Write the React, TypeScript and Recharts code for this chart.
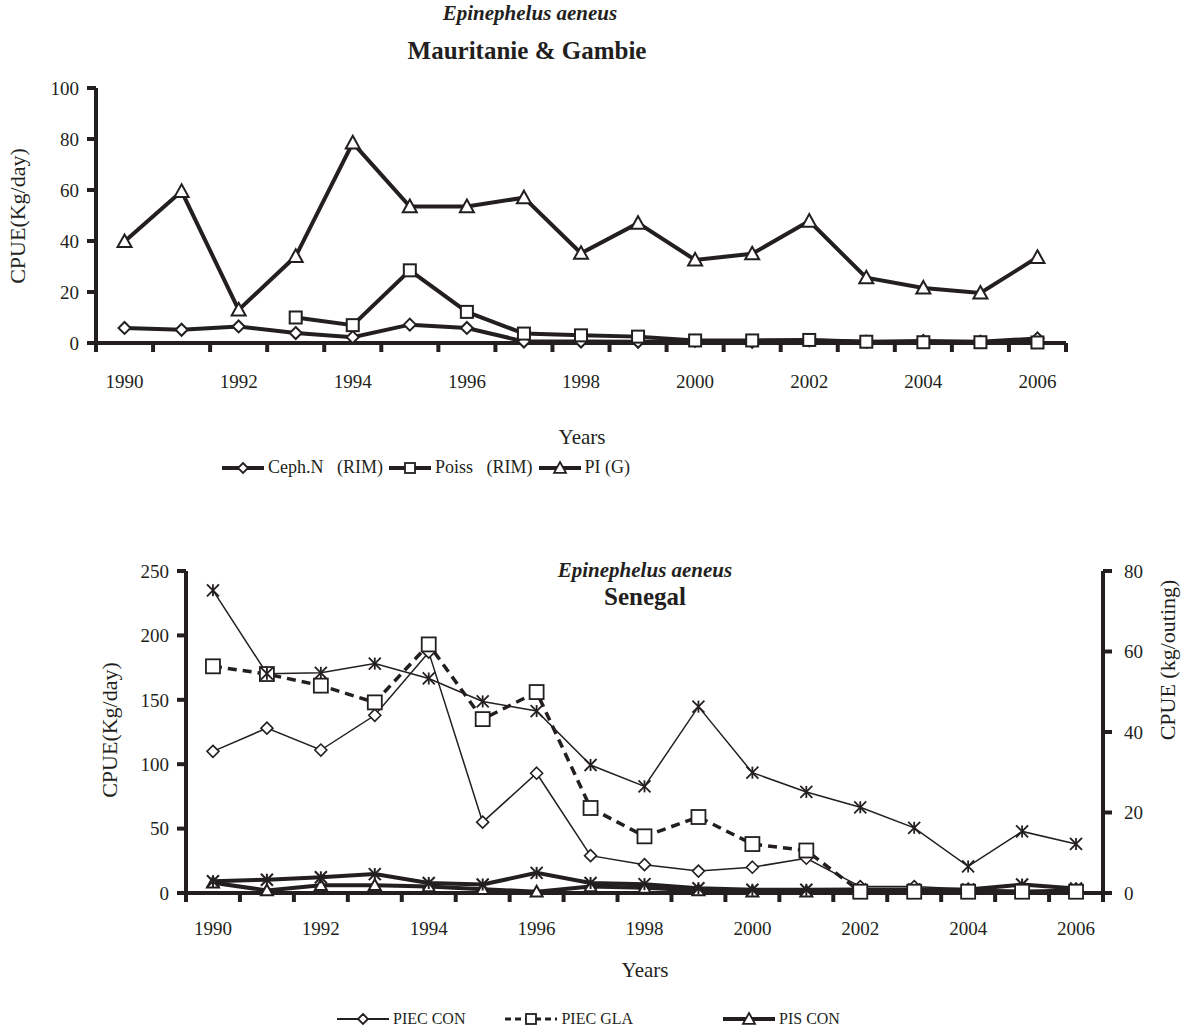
import React from 'react';
import { LineChart, Line, XAxis, YAxis } from 'recharts';

const years = [1990, 1991, 1992, 1993, 1994, 1995, 1996, 1997, 1998, 1999, 2000, 2001, 2002, 2003, 2004, 2005, 2006];
const yearLabels = [1990, 1992, 1994, 1996, 1998, 2000, 2002, 2004, 2006];

// Mauritanie & Gambie (kg/day)
const cephN = [5.9, 5.2, 6.5, 3.9, 2.3, 7.2, 5.9, 0.6, 0.6, 0.5, 0.8, 0.5, 1.0, 0.5, 0.8, 0.5, 1.8];
const poiss = [null, null, null, 10, 7, 28.5, 12.2, 3.7, 3, 2.5, 1, 1, 1.2, 0.5, 0.3, 0.3, 0.2];
const piG = [39.8, 59.5, 13, 34, 78.5, 53.5, 53.5, 57, 35.2, 47, 32.6, 35, 47.8, 25.6, 21.6, 19.6, 33.6];
const topTicks = [0, 20, 40, 60, 80, 100];

// Senegal
const piecCon = [110, 128, 111, 138, 187, 55, 93, 29, 22, 17, 20, 27, 5, 5, 3, 2, 3];
const piecGla = [176, 170, 161, 148, 193, 135, 156, 66, 44, 59, 38, 33, 1, 1, 1, 1, 1];
const pisCon = [8, 2, 6, 6, 5, 3, 1, 5, 4, 2, 1, 1, 2, 2, 1, 1, 1];
// kg/outing (right axis)
const outingA = [75.2, 54.5, 54.7, 57, 53.3, 47.6, 45.2, 31.8, 26.5, 46.3, 29.9, 25.1, 21.3, 16.2, 6.6, 15.3, 12.2];
const outingB = [2.9, 3.3, 3.9, 4.7, 2.5, 2.1, 5, 2.5, 2.2, 1.2, 0.8, 0.8, 0.9, 0.9, 0.9, 2.1, 1.1];
const leftTicks = [0, 50, 100, 150, 200, 250];
const rightTicks = [0, 20, 40, 60, 80];

const INK = '#231f20';
const FONT = '"Liberation Serif", "Times New Roman", serif';

const topData = years.map((y, i) => ({ year: y, cephN: cephN[i], poiss: poiss[i], piG: piG[i] }));
const senData = years.map((y, i) => ({
  year: y,
  piecCon: piecCon[i],
  piecGla: piecGla[i],
  pisCon: pisCon[i],
  outingA: outingA[i],
  outingB: outingB[i],
}));
// tick marks sit between the years (Excel "between tick marks")
const bounds = years.map((y) => y - 0.5).concat(years[years.length - 1] + 0.5);

function Marker({ cx, cy, kind, s = 6, sw = 2 }: any) {
  if (cx == null || cy == null || isNaN(cy)) return <g />;
  const common = { fill: '#fff', stroke: INK, strokeWidth: sw };
  if (kind === 'diamond')
    return <polygon {...common} points={`${cx},${cy - s} ${cx + s},${cy} ${cx},${cy + s} ${cx - s},${cy}`} />;
  if (kind === 'square') return <rect {...common} x={cx - s} y={cy - s} width={2 * s} height={2 * s} />;
  if (kind === 'triangle')
    return <polygon {...common} points={`${cx},${cy - s} ${cx + s},${cy + s * 0.8} ${cx - s},${cy + s * 0.8}`} />;
  return (
    <g stroke={INK} strokeWidth={sw}>
      <line x1={cx - s} y1={cy - s} x2={cx + s} y2={cy + s} />
      <line x1={cx - s} y1={cy + s} x2={cx + s} y2={cy - s} />
      <line x1={cx} y1={cy - s} x2={cx} y2={cy + s} />
    </g>
  );
}

const dot = (kind: string, s?: number, sw?: number) => (p: any) =>
  <Marker key={`${kind}-${p.index}`} cx={p.cx} cy={p.cy} kind={kind} s={s} sw={sw} />;

const tickStyle = { fontSize: 19, fill: INK, fontFamily: FONT };
const thick = { stroke: INK, strokeWidth: 4 };

function LegendItem({ kind, width, sw, dash, label, s = 6, gap = 0 }: any) {
  return (
    <span style={{ display: 'inline-flex', alignItems: 'center', marginRight: 6, marginLeft: gap }}>
      <svg width={width} height={16} style={{ marginRight: 4 }}>
        <line x1={0} y1={8} x2={width} y2={8} stroke={INK} strokeWidth={sw} strokeDasharray={dash} />
        <Marker cx={width / 2} cy={8} kind={kind} s={s} sw={1.8} />
      </svg>
      <span style={{ whiteSpace: 'pre' }}>{label}</span>
    </span>
  );
}

const abs = (left: number, top: number, extra: any = {}) => ({ position: 'absolute' as const, left, top, ...extra });

export default function App() {
  return (
    <div style={{ position: 'absolute', left: 0, top: 0, width: 1191, height: 1036, background: '#fff', color: INK, fontFamily: FONT }}>
      {/* Mauritanie & Gambie */}
      <div style={abs(530, 1, { fontSize: 21, fontWeight: 'bold', fontStyle: 'italic', transform: 'translateX(-50%)', whiteSpace: 'nowrap' })}>
        Epinephelus aeneus
      </div>
      <div style={abs(527, 37, { fontSize: 25, fontWeight: 'bold', transform: 'translateX(-50%)', whiteSpace: 'nowrap' })}>
        Mauritanie &amp; Gambie
      </div>
      <div style={abs(0, 0)}>
        <LineChart width={1191} height={400} data={topData} margin={{ top: 88, right: 125, left: 0, bottom: 0 }}>
          <XAxis xAxisId="grid" type="number" dataKey="year" domain={[1989.5, 2006.5]} ticks={bounds} allowDataOverflow
            tickFormatter={() => ''} axisLine={thick} tickLine={thick} tickSize={9} height={12} />
          <XAxis xAxisId="main" type="number" dataKey="year" domain={[1989.5, 2006.5]} ticks={yearLabels} interval={0}
            axisLine={false} tickLine={false} tick={tickStyle} tickMargin={14} height={45} />
          <YAxis domain={[0, 100]} ticks={topTicks} width={96} axisLine={thick} tickLine={thick} tickSize={9} tick={tickStyle} tickMargin={8} />
          <Line xAxisId="main" dataKey="cephN" name="Ceph.N (RIM)" stroke={INK} strokeWidth={4} dot={dot('diamond', 6)} isAnimationActive={false} />
          <Line xAxisId="main" dataKey="poiss" name="Poiss (RIM)" stroke={INK} strokeWidth={4} dot={dot('square', 6)} isAnimationActive={false} />
          <Line xAxisId="main" dataKey="piG" name="PI (G)" stroke={INK} strokeWidth={4} dot={dot('triangle', 7)} isAnimationActive={false} />
        </LineChart>
      </div>
      <div style={abs(18, 216, { fontSize: 22, transform: 'translate(-50%, -50%) rotate(-90deg)', whiteSpace: 'nowrap' })}>CPUE(Kg/day)</div>
      <div style={abs(582, 437, { fontSize: 21, transform: 'translate(-50%, -50%)' })}>Years</div>
      <div style={abs(222, 457, { fontSize: 18, display: 'flex' })}>
        <LegendItem kind="diamond" width={42} sw={4} label={'Ceph.N   (RIM)'} s={5} />
        <LegendItem kind="square" width={42} sw={4} label={'Poiss   (RIM)'} s={5} />
        <LegendItem kind="triangle" width={42} sw={4} label={'PI (G)'} s={6} />
      </div>

      {/* Senegal */}
      <div style={abs(0, 520)}>
        <LineChart width={1191} height={420} data={senData} margin={{ top: 51, right: 0, left: 0, bottom: 0 }}>
          <XAxis xAxisId="grid" type="number" dataKey="year" domain={[1989.5, 2006.5]} ticks={bounds} allowDataOverflow
            tickFormatter={() => ''} axisLine={thick} tickLine={thick} tickSize={9} height={12} />
          <XAxis xAxisId="main" type="number" dataKey="year" domain={[1989.5, 2006.5]} ticks={yearLabels} interval={0}
            axisLine={false} tickLine={false} tick={tickStyle} tickMargin={11} height={35} />
          <YAxis yAxisId="left" domain={[0, 250]} ticks={leftTicks} width={186} axisLine={thick} tickLine={thick} tickSize={9} tick={tickStyle} tickMargin={8} />
          <YAxis yAxisId="right" orientation="right" domain={[0, 80]} ticks={rightTicks} width={88} axisLine={thick} tickLine={thick} tickSize={9} tick={tickStyle} tickMargin={12} />
          <Line xAxisId="main" yAxisId="left" dataKey="pisCon" name="PIS CON" stroke={INK} strokeWidth={4} dot={dot('triangle', 6)} isAnimationActive={false} />
          <Line xAxisId="main" yAxisId="right" dataKey="outingB" name="kg/outing B" stroke={INK} strokeWidth={4} dot={dot('asterisk', 6, 2)} isAnimationActive={false} />
          <Line xAxisId="main" yAxisId="left" dataKey="piecCon" name="PIEC CON" stroke={INK} strokeWidth={1.5} dot={dot('diamond', 6, 1.6)} isAnimationActive={false} />
          <Line xAxisId="main" yAxisId="left" dataKey="piecGla" name="PIEC GLA" stroke={INK} strokeWidth={3.5} strokeDasharray="9 6" dot={dot('square', 7, 1.8)} isAnimationActive={false} />
          <Line xAxisId="main" yAxisId="right" dataKey="outingA" name="kg/outing A" stroke={INK} strokeWidth={1.5} dot={dot('asterisk', 6, 1.8)} isAnimationActive={false} />
        </LineChart>
      </div>
      <div style={abs(645, 558, { fontSize: 21, fontWeight: 'bold', fontStyle: 'italic', transform: 'translateX(-50%)', whiteSpace: 'nowrap' })}>
        Epinephelus aeneus
      </div>
      <div style={abs(645, 583, { fontSize: 25, fontWeight: 'bold', transform: 'translateX(-50%)' })}>Senegal</div>
      <div style={abs(110, 730, { fontSize: 22, transform: 'translate(-50%, -50%) rotate(-90deg)', whiteSpace: 'nowrap' })}>CPUE(Kg/day)</div>
      <div style={abs(1168, 660, { fontSize: 22, transform: 'translate(-50%, -50%) rotate(-90deg)', whiteSpace: 'nowrap' })}>CPUE (kg/outing)</div>
      <div style={abs(645, 970, { fontSize: 21, transform: 'translate(-50%, -50%)' })}>Years</div>
      <div style={abs(337, 1010, { fontSize: 16, display: 'flex' })}>
        <LegendItem kind="diamond" width={52} sw={2} label="PIEC CON" s={5} />
        <LegendItem kind="square" width={52} sw={3} dash="6 4" label="PIEC GLA" s={5} gap={34} />
        <LegendItem kind="triangle" width={52} sw={4} label="PIS CON" s={6} gap={84} />
      </div>
    </div>
  );
}
